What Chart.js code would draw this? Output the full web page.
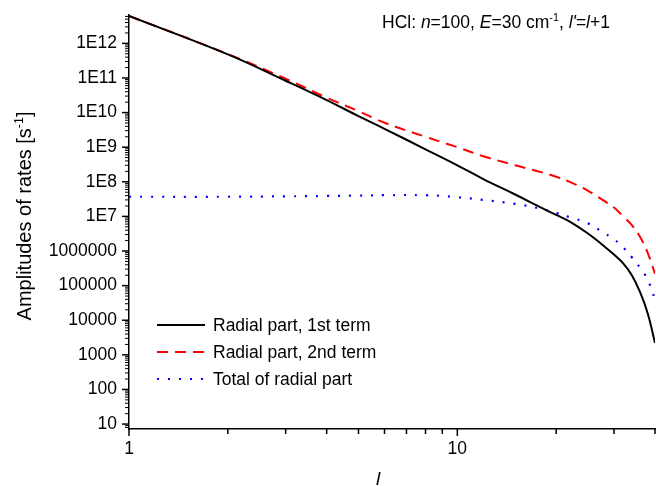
<!DOCTYPE html>
<html>
<head>
<meta charset="utf-8">
<script src="https://cdn.jsdelivr.net/npm/chart.js@4.4.1/dist/chart.umd.min.js"></script>
<style>
html,body{margin:0;padding:0;background:#fff;}
#wrap{width:656px;height:486px;}
</style>
</head>
<body>
<div id="wrap"><canvas id="rates" width="656" height="486"></canvas></div>
<script>
// values
const lValues = [1,2,3,4,5,6,8,10,12,15,18,20,22,25,28,30,32,34,36,38,40];
const firstTerm = [6.2e12,4.8e11,8.3e10,2.3e10,7.9e9,3.4e9,8.7e8,3.0e8,1.2e8,4.3e7,1.8e7,1.1e7,7.1e6,3.2e6,1.38e6,7.9e5,4.4e5,2.0e5,6.6e4,1.6e4,2.2e3];
const secondTerm = [6.2e12,4.9e11,9.5e10,2.7e10,1.1e10,5.1e9,2.0e9,1.0e9,5.5e8,3.0e8,1.9e8,1.4e8,1.0e8,5.5e7,2.8e7,1.8e7,1.0e7,5.6e6,2.6e6,8.9e5,2.2e5];
const totalRadial = [3.7e7,3.7e7,3.8e7,3.9e7,4.0e7,4.1e7,4.1e7,3.6e7,3.0e7,2.3e7,1.66e7,1.26e7,9.5e6,6.3e6,3.3e6,2.2e6,1.26e6,6.6e5,3.3e5,1.5e5,4.0e4];
const seriesNames = ["Radial part, 1st term","Radial part, 2nd term","Total of radial part"];

const yDecadeValues = [10,100,1000,1e4,1e5,1e6,1e7,1e8,1e9,1e10,1e11,1e12];
const yDecadeLabels = ["10","100","1000","10000","100000","1000000","1E7","1E8","1E9","1E10","1E11","1E12"];
const xMajorValues = [1,10];
const xMajorLabels = ["1","10"];

const fontFamily = '"Liberation Sans", Arial, sans-serif';
Chart.defaults.font.family = fontFamily;
Chart.defaults.color = "#000";

function isDecade(v) {
  const e = Math.log10(v);
  return Math.abs(e - Math.round(e)) < 1e-9;
}

// ticks at 1..9 x 10^e inside the scale range
function logTicks(scale) {
  const out = [];
  for (let e = 0; e <= 13; e++) {
    for (let m = 1; m <= 9; m++) {
      const v = m * Math.pow(10, e);
      if (v >= scale.min && v <= scale.max) out.push({ value: v });
    }
  }
  scale.ticks = out;
}

function pts(ys) {
  return lValues.map((l, i) => ({ x: l, y: ys[i] }));
}

// text runs: {t, it (italic), sup}
function runFont(r, size) {
  return (r.it ? "italic " : "") + (r.sup ? size * 0.62 : size) + "px " + fontFamily;
}
function drawRich(ctx, runs, x, y, size) {
  let cx = x;
  runs.forEach(r => {
    ctx.font = runFont(r, size);
    ctx.fillText(r.t, cx, r.sup ? y - size * 0.42 : y);
    cx += ctx.measureText(r.t).width;
  });
  return cx - x;
}
function richWidth(ctx, runs, size) {
  return runs.reduce((a, r) => {
    ctx.font = runFont(r, size);
    return a + ctx.measureText(r.t).width;
  }, 0);
}

const axisTicks = {
  id: "axisTicks",
  afterDraw(chart) {
    const ctx = chart.ctx;
    const xs = chart.scales.x, ys = chart.scales.y;
    ctx.save();
    ctx.strokeStyle = "#000";
    ys.ticks.forEach(t => {
      const y = ys.getPixelForValue(t.value);
      const major = isDecade(t.value);
      ctx.lineWidth = major ? 1.5 : 1;
      ctx.beginPath();
      ctx.moveTo(ys.right - (major ? 7 : 4), y);
      ctx.lineTo(ys.right, y);
      ctx.stroke();
    });
    xs.ticks.forEach(t => {
      const x = xs.getPixelForValue(t.value);
      const major = isDecade(t.value);
      ctx.lineWidth = 1.5;
      ctx.beginPath();
      ctx.moveTo(x, xs.top);
      ctx.lineTo(x, xs.top + (major ? 7 : 5));
      ctx.stroke();
    });
    ctx.restore();
  }
};

const labelsPlugin = {
  id: "labelsPlugin",
  afterDraw(chart) {
    const ctx = chart.ctx;
    const size = 17.5;
    ctx.save();
    ctx.fillStyle = "#000";
    ctx.textBaseline = "alphabetic";
    ctx.textAlign = "left";

    // header
    drawRich(ctx, [
      { t: "HCl: " }, { t: "n", it: true }, { t: "=100, " }, { t: "E", it: true },
      { t: "=30 cm" }, { t: "-1", sup: true }, { t: ", " }, { t: "l'", it: true },
      { t: "=" }, { t: "l", it: true }, { t: "+1" }
    ], 382, 28, size);

    // x title
    ctx.font = "italic 19px " + fontFamily;
    ctx.textAlign = "center";
    ctx.fillText("l", 378, 485);
    ctx.textAlign = "left";

    // y title
    const ySize = 20;
    const yRuns = [{ t: "Amplitudes of rates [s" }, { t: "-1", sup: true }, { t: "]" }];
    const w = richWidth(ctx, yRuns, ySize);
    ctx.save();
    ctx.translate(31, 216);
    ctx.rotate(-Math.PI / 2);
    drawRich(ctx, yRuns, -w / 2, 0, ySize);
    ctx.restore();

    // legend
    const rows = [325, 352, 379];
    chart.data.datasets.forEach((ds, i) => {
      const y = rows[i];
      ctx.save();
      ctx.strokeStyle = ds.borderColor;
      ctx.lineWidth = ds.borderWidth;
      ctx.setLineDash(ds.borderDash || []);
      ctx.beginPath();
      ctx.moveTo(157, y);
      ctx.lineTo(205, y);
      ctx.stroke();
      ctx.restore();
      ctx.font = size + "px " + fontFamily;
      ctx.textBaseline = "middle";
      ctx.fillText(ds.label, 213, y + 1);
    });
    ctx.restore();
  }
};

new Chart(document.getElementById("rates"), {
  type: "line",
  data: {
    datasets: [
      { label: seriesNames[0], data: pts(firstTerm), borderColor: "#000000", borderWidth: 2, borderDash: [] },
      { label: seriesNames[1], data: pts(secondTerm), borderColor: "#ff0000", borderWidth: 2, borderDash: [11, 7] },
      { label: seriesNames[2], data: pts(totalRadial), borderColor: "#0000ff", borderWidth: 2.2, borderDash: [2, 9] }
    ]
  },
  options: {
    responsive: false,
    animation: false,
    devicePixelRatio: 1,
    layout: { padding: { top: 15, right: 1, left: 0, bottom: 0 } },
    elements: {
      point: { radius: 0 },
      line: { tension: 0.4, fill: false }
    },
    plugins: { legend: { display: false }, tooltip: { enabled: false } },
    scales: {
      x: {
        type: "logarithmic",
        min: 1,
        max: 40,
        afterBuildTicks: logTicks,
        afterFit: s => { s.height = 57; s.paddingLeft = 0; s.paddingRight = 0; },
        grid: { display: false, drawTicks: false },
        border: { display: true, color: "#000", width: 1.5 },
        ticks: {
          autoSkip: false,
          maxRotation: 0,
          padding: 10,
          font: { size: 17.5 },
          callback: v => {
            const i = xMajorValues.indexOf(v);
            return i >= 0 ? xMajorLabels[i] : "";
          }
        }
      },
      y: {
        type: "logarithmic",
        min: 7.2,
        max: 6.6e12,
        afterBuildTicks: logTicks,
        afterFit: s => { s.width = 129; s.paddingTop = 0; s.paddingBottom = 0; },
        grid: { display: false, drawTicks: false },
        border: { display: true, color: "#000", width: 1.5 },
        ticks: {
          autoSkip: false,
          padding: 12,
          font: { size: 17.5 },
          callback: v => {
            const i = yDecadeValues.findIndex(d => Math.abs(d - v) / d < 1e-9);
            return i >= 0 ? yDecadeLabels[i] : "";
          }
        }
      }
    }
  },
  plugins: [axisTicks, labelsPlugin]
});
</script>
</body>
</html>
